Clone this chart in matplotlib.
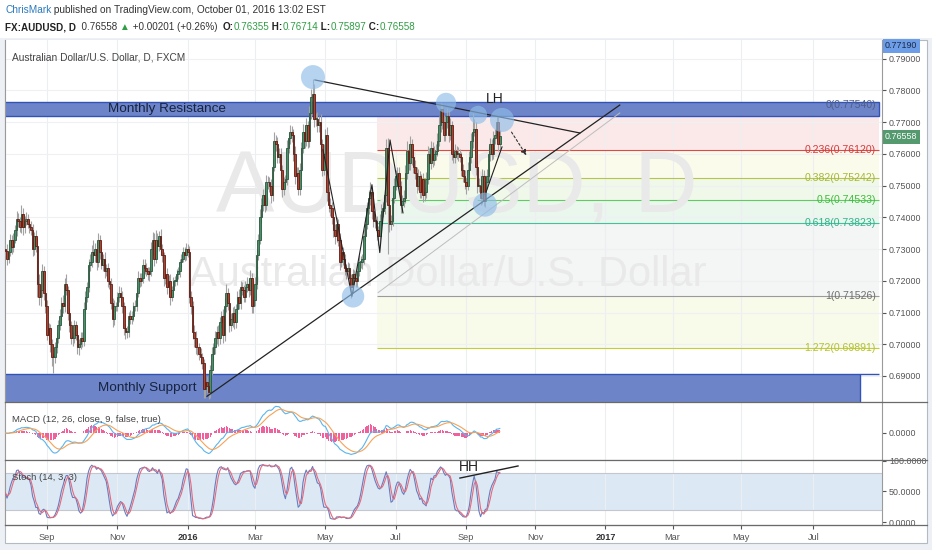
import matplotlib
matplotlib.use("Agg")
import matplotlib.pyplot as plt
from matplotlib.lines import Line2D
from matplotlib.patches import Rectangle
import numpy as np
import pandas as pd

plt.rcParams['font.family'] = ['Liberation Sans', 'DejaVu Sans']

# AUDUSD daily closes, 27 Jul 2015 .. 30 Sep 2016 (pips, x 1e-4), one row per week
closes = [
    7295, 7270, 7290, 7330, 7305,  7330, 7360, 7395, 7390, 7370,
    7410, 7370, 7390, 7395, 7380,  7370, 7360, 7300, 7340, 7310,
    7190, 7150, 7170, 7230, 7160,  7120, 7030, 7050, 7000, 6960,
    6960, 6990, 7020, 7060, 7090,  7130, 7120, 7190, 7170, 7100,
    7060, 7020, 7020, 7060, 7030,  6990, 7000, 7020, 7010, 7110,
    7150, 7180, 7250, 7260, 7290,  7280, 7300, 7260, 7330, 7290,
    7250, 7270, 7230, 7240, 7200,  7190, 7130, 7080, 7120, 7120,
    7150, 7160, 7150, 7120, 7050,  7040, 7040, 7090, 7080, 7090,
    7120, 7120, 7160, 7210, 7200,  7210, 7250, 7240, 7230, 7220,
    7230, 7300, 7330, 7270, 7330,  7310, 7340, 7300, 7280, 7210,
    7220, 7180, 7200, 7150, 7170,  7200, 7200, 7220, 7230, 7260,
    7270, 7290, 7280, 7300, 7290,  7150, 7120, 7040, 7020, 6990,
    6990, 6970, 6960, 6940, 6860,  6880, 6870, 6850, 6920, 6970,
    6990, 7020, 7040, 7020, 7070,  7090, 7030, 7120, 7160, 7130,
    7060, 7080, 7100, 7070, 7110,  7150, 7130, 7180, 7170, 7150,
    7180, 7190, 7170, 7210, 7120,  7140, 7190, 7280, 7330, 7400,
    7440, 7470, 7440, 7510, 7510,  7500, 7470, 7560, 7640, 7630,
    7590, 7600, 7550, 7490, 7510,  7520, 7620, 7650, 7670, 7660,
    7600, 7530, 7540, 7490, 7550,  7620, 7670, 7640, 7690, 7640,
    7730, 7780, 7790, 7710, 7710,  7690, 7700, 7630, 7550, 7600,
    7660, 7480, 7440, 7430, 7400,  7360, 7340, 7380, 7330, 7260,
    7290, 7270, 7240, 7230, 7240,  7210, 7180, 7220, 7210, 7200,
    7230, 7260, 7260, 7270, 7340,  7380, 7430, 7460, 7480, 7420,
    7390, 7390, 7360, 7340, 7390,  7420, 7430, 7470, 7620, 7440,
    7380, 7390, 7460, 7500, 7530,  7540, 7500, 7440, 7450, 7460,
    7540, 7610, 7570, 7630, 7590,  7560, 7540, 7500, 7530, 7480,
    7520, 7470, 7480, 7520, 7600,  7570, 7620, 7580, 7600, 7610,
    7640, 7690, 7740, 7700, 7660,  7700, 7720, 7660, 7690, 7600,
    7590, 7610, 7600, 7600, 7590,  7550, 7530, 7510, 7500, 7550,
    7590, 7640, 7670, 7680, 7560,  7500, 7500, 7460, 7530, 7450,
    7510, 7530, 7600, 7630, 7600,  7650, 7660, 7700, 7630, 7656,
]
first_open = 7300

# wick lengths above / below the body, pips
up_wick = [
    15, 20, 12, 18, 14,  20, 15, 25, 18, 12,  30, 18, 15, 22, 14,  12, 20, 18, 15, 20,
    25, 30, 20, 22, 18,  15, 20, 18, 14, 16,  12, 18, 20, 15, 22,  20, 25, 18, 30, 15,
    15, 12, 20, 18, 14,  12, 15, 20, 18, 22,  18, 15, 20, 25, 22,  40, 20, 25, 20, 15,
    18, 15, 20, 14, 16,  12, 20, 15, 18, 14,  15, 25, 20, 18, 12,  14, 16, 12, 18, 15,
    12, 18, 20, 22, 15,  14, 20, 18, 15, 12,  15, 22, 25, 20, 30,  20, 18, 22, 15, 12,
    15, 20, 18, 22, 14,  12, 15, 18, 14, 10,  14, 18, 16, 20, 15,  20, 18, 15, 20, 22,
    20, 15, 18, 14, 12,  25, 20, 18, 15, 20,  15, 22, 18, 20, 16,  14, 20, 25, 30, 18,
    15, 20, 18, 22, 16,  18, 25, 20, 15, 18,  20, 22, 18, 25, 14,  16, 22, 20, 18, 25,
    20, 18, 22, 25, 20,  18, 20, 25, 30, 20,  22, 18, 20, 15, 18,  15, 25, 20, 22, 18,
    20, 25, 18, 20, 22,  18, 25, 20, 22, 15,  20, 25, 45, 30, 20,  22, 20, 25, 18, 30,
    20, 25, 15, 20, 18,  15, 18, 20, 15, 20,  20, 18, 15, 12, 18,  15, 12, 18, 15, 14,
    16, 20, 18, 15, 22,  20, 18, 25, 30, 15,  18, 20, 15, 14, 20,  22, 18, 25, 27, 30,
    20, 18, 22, 25, 20,  18, 20, 15, 22, 25,  25, 30, 20, 25, 18,  15, 20, 18, 22, 16,
    18, 20, 15, 22, 25,  20, 22, 18, 25, 20,  25, 30, 20, 18, 22,  20, 25, 18, 22, 15,
    18, 20, 15, 22, 14,  16, 18, 20, 15, 25,  20, 25, 60, 30, 20,  18, 25, 20, 22, 18,
    20, 22, 25, 20, 18,  22, 18, 20, 15, 20,
]
dn_wick = [
    18, 20, 15, 12, 20,  15, 12, 18, 20, 15,  20, 25, 18, 15, 14,  18, 15, 22, 20, 18,
    40, 25, 30, 20, 22,  20, 18, 22, 25, 30,  52, 20, 18, 15, 14,  15, 20, 18, 16, 22,
    20, 18, 25, 15, 18,  20, 25, 15, 18, 14,  15, 18, 14, 20, 16,  18, 20, 25, 15, 20,
    14, 18, 20, 15, 18,  15, 20, 25, 18, 14,  16, 18, 15, 20, 22,  25, 20, 18, 15, 16,
    18, 15, 14, 12, 18,  15, 18, 20, 14, 16,  20, 15, 18, 22, 14,  18, 15, 20, 22, 25,
    20, 22, 18, 25, 15,  14, 16, 12, 15, 18,  15, 12, 18, 14, 16,  20, 25, 22, 30, 20,
    25, 20, 22, 18, 30,  30, 25, 23, 20, 18,  22, 20, 18, 25, 20,  18, 25, 20, 18, 22,
    20, 18, 25, 22, 18,  15, 18, 20, 16, 18,  18, 15, 20, 16, 22,  20, 18, 15, 16, 14,
    18, 20, 22, 16, 20,  20, 25, 18, 15, 22,  18, 20, 22, 25, 20,  15, 18, 16, 20, 22,
    22, 25, 20, 18, 20,  15, 18, 20, 16, 22,  18, 20, 15, 25, 22,  20, 22, 25, 20, 18,
    20, 30, 22, 25, 20,  22, 25, 18, 20, 25,  18, 20, 22, 25, 15,  20, 35, 18, 22, 20,
    18, 15, 20, 22, 16,  15, 18, 20, 22, 25,  20, 25, 30, 28, 20,  15, 18, 20, 22, 155,
    25, 20, 18, 16, 15,  18, 20, 25, 22, 18,  15, 18, 20, 22, 25,  20, 18, 22, 15, 20,
    18, 22, 20, 18, 15,  20, 18, 22, 16, 20,  18, 15, 20, 22, 18,  20, 18, 22, 15, 20,
    18, 20, 15, 22, 16,  20, 18, 22, 25, 15,  16, 18, 20, 15, 25,  22, 20, 20, 18, 15,
    18, 20, 15, 22, 20,  16, 18, 20, 22, 18,
]

month_ticks = ["2015-09", "2015-11", "2016-01", "2016-03", "2016-05", "2016-07",
               "2016-09", "2016-11", "2017-01", "2017-03", "2017-05", "2017-07"]
month_labels = ["Sep", "Nov", "2016", "Mar", "May", "Jul",
                "Sep", "Nov", "2017", "Mar", "May", "Jul"]

# fibonacci retracement drawn on the chart
fib_ratios = [0, 0.236, 0.382, 0.5, 0.618, 1, 1.272]
fib_prices = [0.77540, 0.76120, 0.75242, 0.74533, 0.73823, 0.71526, 0.69891]
fib_line_colors = ['#8a8a8a', '#e04848', '#b5c44c', '#5fcc5f', '#45c09c', '#9a9a9a', '#c2cd3c']
fib_text_colors = ['#4f5f8c', '#d43c3c', '#a6b83a', '#3dbd3d', '#2fb48e', '#707070', '#b5c233']
fib_fill_colors = ['#fbe9e9', '#fbfbec', '#eff8e9', '#eaf7ed', '#f4f5f5', '#f8faea']
fib_span = (232, 546)

resistance = (0.7718, 0.7765)
support_top = 0.6905

# drawings: (bar index, price)
trend_down = ([193.5, 359], [0.7833, 0.7666])
trend_up = ([126, 384], [0.6836, 0.7754])
trend_up_inner = ([233, 384], [0.7163, 0.7729])
zigzag = ([198.5, 216.6, 229.1, 234, 240.4, 248.5],
          [0.7613, 0.7151, 0.7503, 0.7289, 0.7644, 0.7414])
zigzag_sep = ([299.8, 310.4], [0.7471, 0.7622])
circle_x = [192.25, 275.4, 295.4, 310.4, 299.75, 217.3]
circle_y = [0.7842, 0.7761, 0.7723, 0.7707, 0.7440, 0.7151]
circle_s = [300, 210, 170, 300, 300, 260]
hh_line = ([284.1, 320.4], [72, 91.8])

W, H = 932, 550


def fx(px):
    return px / W


def fy(py):
    return 1 - py / H


dates = pd.bdate_range("2015-07-27", "2017-08-31")
tick_pos = [dates.searchsorted(pd.Timestamp(m + "-01")) for m in month_ticks]

c = np.array(closes) / 1e4
o = np.r_[first_open / 1e4, c[:-1]]
hi = np.maximum(o, c) + np.array(up_wick) / 1e4
lo = np.minimum(o, c) - np.array(dn_wick) / 1e4
idx = np.arange(len(c))

fig = plt.figure(figsize=(W / 100, H / 100), dpi=100, facecolor='#edf0f4')
fig.patches.append(Rectangle((0, fy(38)), 1, 38 / H, transform=fig.transFigure,
                             facecolor='white', edgecolor='none', zorder=-2))
fig.patches.append(Rectangle((fx(5), fy(543)), 922 / W, 503 / H, transform=fig.transFigure,
                             facecolor='white', edgecolor='#b4bac4', lw=0.8, zorder=-1))

L, R = 5, 882


def add_ax(top, bot):
    a = fig.add_axes([fx(L), fy(bot), (R - L) / W, (bot - top) / H])
    a.set_xlim(-0.25, 547.9)
    a.set_xticks(tick_pos)
    a.set_xticklabels([])
    a.grid(axis='x', color='#eceef2', lw=0.8, zorder=0)
    a.yaxis.tick_right()
    a.tick_params(axis='y', labelsize=6.4, colors='#555555', length=3, pad=2)
    a.tick_params(axis='x', length=0)
    for s in a.spines.values():
        s.set_color('#9a9a9a')
        s.set_linewidth(0.8)
    a.spines['top'].set_visible(False)
    a.set_axisbelow(True)
    return a


ax = add_ax(40, 402)
axm = add_ax(402, 460)
axs = add_ax(460, 525)

# ---- main price pane
ax.set_ylim(0.6818, 0.7959)
pticks = np.round(np.arange(0.69, 0.7951, 0.01), 2)
ax.set_yticks(pticks)
ax.set_yticklabels([f"{p:.5f}" for p in pticks])
ax.grid(axis='y', color='#eef0f3', lw=0.8, zorder=0)

ax.text(0.515, 0.586, "AUDUSD, D", transform=ax.transAxes, ha='center', va='center',
        fontsize=63, color='#e9e9e9', zorder=1)
ax.text(0.505, 0.351, "Australian Dollar/U.S. Dollar", transform=ax.transAxes,
        ha='center', va='center', fontsize=30, color='#e9e9e9', zorder=1)

for i in range(len(fib_prices) - 1):
    ax.fill_between(fib_span, fib_prices[i], fib_prices[i + 1], color=fib_fill_colors[i],
                    lw=0, zorder=0.5)
for r, p, lc, tc in zip(fib_ratios, fib_prices, fib_line_colors, fib_text_colors):
    ax.hlines(p, *fib_span, color=lc, lw=0.8, zorder=0.6)
    ax.text(544, p, f"{r:g}({p:.5f})", ha='right', va='center', fontsize=7.6,
            color=tc, zorder=7)

ax.add_patch(Rectangle((-1, resistance[0]), 547, resistance[1] - resistance[0],
                       facecolor='#6d85c8', edgecolor='#3252b8', lw=1, zorder=2))
ax.add_patch(Rectangle((-1, 0.67), 535, support_top - 0.67,
                       facecolor='#6d85c8', edgecolor='#3252b8', lw=1, zorder=2))
ax.hlines(support_top, 534, 546, color='#3252b8', lw=1, zorder=2)
ax.text(101, sum(resistance) / 2, "Monthly Resistance", ha='center', va='center',
        fontsize=9.7, color='#17233f', zorder=7)
ax.text(88.5, 0.6862, "Monthly Support", ha='center', va='center',
        fontsize=9.7, color='#17233f', zorder=7)

# candles
up = c >= o
body_lo = np.minimum(o, c)
body_h = np.maximum(np.abs(c - o), 0.0002)
ax.vlines(idx, lo, hi, color='#a2a2a2', lw=0.8, zorder=3)
ax.bar(idx[up], body_h[up], bottom=body_lo[up], width=0.95, color='#4a9068',
       edgecolor='#2a573d', lw=0.6, zorder=4)
ax.bar(idx[~up], body_h[~up], bottom=body_lo[~up], width=0.95, color='#ad4330',
       edgecolor='#5c1d14', lw=0.6, zorder=4)

ax.scatter(circle_x, circle_y, s=circle_s, color='#8fbde8', alpha=0.65, lw=0, zorder=6)
ax.plot(*trend_down, color='#222222', lw=0.9, zorder=5)
ax.plot(*trend_up, color='#222222', lw=0.9, zorder=5)
ax.plot(*trend_up_inner, color='#bdbdbd', lw=0.7, zorder=5)
ax.plot(*zigzag, color='#222222', lw=0.8, zorder=5)
ax.plot(*zigzag_sep, color='#222222', lw=0.8, zorder=5)
ax.annotate('', xy=(326.6, 0.7588), xytext=(315.4, 0.7676),
            arrowprops=dict(arrowstyle='-|>', linestyle=(0, (2, 2)), color='#333333',
                            lw=0.8, mutation_scale=8), zorder=7)
ax.text(306, 0.7773, "LH", ha='center', va='center', fontsize=10, color='#222222', zorder=7)

# ---- MACD pane
cs = pd.Series(c)
macd = cs.ewm(span=12, adjust=False).mean() - cs.ewm(span=26, adjust=False).mean()
sig = macd.ewm(span=9, adjust=False).mean()
hist = macd - sig
axm.bar(idx, hist, width=0.85, color='#f0609c', lw=0, zorder=2)
axm.plot(idx, macd, color='#5bb5ec', lw=0.8, zorder=3)
axm.plot(idx, sig, color='#f5a35a', lw=0.8, zorder=3)
m = max(np.abs(macd).max(), np.abs(sig).max()) * 1.05
axm.set_ylim(-m * 27 / 28, m * 31 / 28)
axm.set_yticks([0])
axm.set_yticklabels(["0.0000"])

# ---- Stochastic pane
hh = pd.Series(hi).rolling(14, min_periods=1).max()
ll = pd.Series(lo).rolling(14, min_periods=1).min()
k = (100 * (cs - ll) / (hh - ll)).rolling(3, min_periods=1).mean()
d = k.rolling(3, min_periods=1).mean()
axs.set_ylim(-4.9, 101.6)
axs.fill_between([-1, 549], 20, 80, color='#dce9f5', lw=0, zorder=0.5)
axs.hlines([20, 80], -1, 549, color='#c4c8ce', lw=0.8, zorder=0.6)
axs.plot(idx, k, color='#6a7cbc', lw=0.8, zorder=3)
axs.plot(idx, d, color='#e66a7c', lw=0.8, zorder=3)
axs.set_yticks([0, 50, 100])
axs.set_yticklabels(["0.0000", "50.0000", "100.0000"])
axs.plot(*hh_line, color='#222222', lw=1, zorder=5, clip_on=False)
axs.text(289.75, 90, "HH", ha='center', va='center', fontsize=10, color='#222222',
         zorder=7, clip_on=False)
axs.set_xticklabels(month_labels)
axs.tick_params(axis='x', labelsize=6.6, colors='#555555', length=3, pad=3)
for t in axs.get_xticklabels():
    if t.get_text() in ("2016", "2017"):
        t.set_fontweight('bold')
        t.set_color('#333333')

# pane separators across the price scale column
for yy in (402, 460, 525):
    fig.add_artist(Line2D([fx(5), fx(927)], [fy(yy), fy(yy)], color='#6a6a6a', lw=0.9))

# panel titles
fig.text(fx(12), fy(57), "Australian Dollar/U.S. Dollar, D, FXCM", fontsize=7.3,
         color='#444444', va='center')
fig.text(fx(12), fy(419), "MACD (12, 26, close, 9, false, true)", fontsize=6.8,
         color='#444444', va='center')
fig.text(fx(12), fy(478), "Stoch (14, 3, 3)", fontsize=6.8, color='#444444', va='center')

# price scale labels
fig.text(fx(885), fy(46), "0.77190", fontsize=6.4, color='#1b2a4a', va='center',
         bbox=dict(boxstyle='square,pad=0.25', fc='#6d9de6', ec='none'))
fig.text(fx(885), fy(137), "0.76558", fontsize=6.4, color='white', va='center',
         bbox=dict(boxstyle='square,pad=0.25', fc='#55996f', ec='none'))

# header
renderer = fig.canvas.get_renderer()


def put_row(x_px, y_px, pieces, size):
    x = x_px
    for s, col, wt in pieces:
        t = fig.text(fx(x), fy(y_px), s, color=col, fontweight=wt, fontsize=size,
                     va='center', ha='left', family=['Liberation Sans', 'DejaVu Sans'])
        x += t.get_window_extent(renderer=renderer).width


green = '#2f9e44'
put_row(5, 10, [("ChrisMark", '#2b7ac0', 'normal'),
                (" published on TradingView.com, October 01, 2016 13:02 EST", '#333333', 'normal')],
        7.3)
put_row(5, 27, [("FX:AUDUSD, D", '#222222', 'bold'),
                ("  0.76558 ", '#333333', 'normal'),
                ("\u25b2", green, 'normal'),
                (" +0.00201 (+0.26%)  ", '#333333', 'normal'),
                ("O:", '#222222', 'bold'), ("0.76355", green, 'normal'),
                (" H:", '#222222', 'bold'), ("0.76714", green, 'normal'),
                (" L:", '#222222', 'bold'), ("0.75897", green, 'normal'),
                (" C:", '#222222', 'bold'), ("0.76558", green, 'normal')],
        7.1)

fig.savefig("out.png", dpi=100, facecolor=fig.get_facecolor())
